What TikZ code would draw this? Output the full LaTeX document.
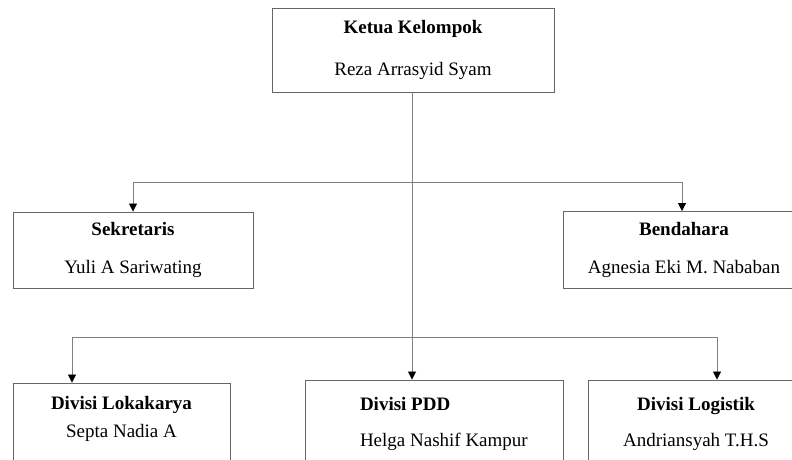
\documentclass[tikz,border=0pt]{standalone}
\usepackage{fontspec}
\setmainfont{Liberation Serif}
\usetikzlibrary{arrows.meta}

\begin{document}
\begin{tikzpicture}[x=1pt,y=-1pt,
  box/.style={draw=black!60, line width=0.9pt, align=center, inner sep=0pt,
    font=\fontsize{19}{22}\selectfont},
  link/.style={draw=black!50, line width=0.8pt},
  arr/.style={link, -{Triangle[width=8pt,length=8pt,color=black]}}]

  % ---- page frame (cuts the boxes on the right and at the bottom) ----
  \clip (0,0) rectangle (792,459);

  % ---- head ----
  \node[box, minimum width=282pt, minimum height=84pt] (ketua) at (413,50)
    {\textbf{Ketua Kelompok}\\[20pt]Reza Arrasyid Syam};

  % ---- second row ----
  \node[box, minimum width=240pt, minimum height=76pt] (sek) at (133,250)
    {\textbf{Sekretaris}\\[16pt]Yuli A Sariwating};
  \node[box, minimum width=242pt, minimum height=77pt] (bend) at (684,250)
    {\textbf{Bendahara}\\[16pt]Agnesia Eki M. Nababan};

  % ---- divisions ----
  \node[box, minimum width=217pt, minimum height=82pt, text depth=15pt]
    (lok) at (121.5,424)
    {\textbf{Divisi Lokakarya}\\[6pt]Septa Nadia A};
  \node[box, minimum width=258pt, minimum height=88pt, text width=148pt,
    align=flush left] (pdd) at (434,424)
    {\textbf{Divisi PDD}\\[14pt]\mbox{Helga Nashif Kampur}};
  \node[box, minimum width=216pt, minimum height=88pt] (log) at (696,424)
    {\textbf{Divisi Logistik}\\[14pt]Andriansyah T.H.S};

  % ---- bus points ----
  \coordinate (busA) at (412,182);
  \coordinate (busB) at (412,337);
  \coordinate (lokx) at (72,0);
  \coordinate (bendx) at (682,0);
  \coordinate (logx) at (717,0);

  % ---- connectors ----
  \draw[arr] (ketua.south -| busA) -- (pdd.north -| busA);
  \draw[arr] (busA) -| (sek.north);
  \draw[arr] (busA) -| (bend.north -| bendx);
  \draw[arr] (busB) -| (lok.north -| lokx);
  \draw[arr] (busB) -| (log.north -| logx);

\end{tikzpicture}
\end{document}
